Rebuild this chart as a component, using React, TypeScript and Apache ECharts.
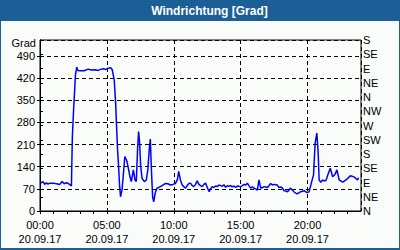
import React, { useEffect, useRef } from "react";
import * as echarts from "echarts";

const title = "Windrichtung [Grad]";
const unitLabel = "Grad";
const dateLabel = "20.09.17";
const compassLabels = ["N", "NE", "E", "SE", "S", "SW", "W", "NW"];

// time in hours of 20.09.17
const hours = [
  0.05, 0.23, 0.35, 0.48, 0.6, 0.73, 0.98, 1.23, 1.48, 1.65, 1.8, 1.98, 2.15, 2.3, 2.35,
  2.37, 2.42, 2.5, 2.6, 2.65, 2.75, 2.83, 3.0, 3.3, 3.6, 3.83, 4.13, 4.35, 4.58, 4.73,
  4.95, 5.1, 5.3, 5.4, 5.55, 5.65, 5.72, 5.8, 5.87, 5.95, 6.02, 6.13, 6.23, 6.34, 6.47,
  6.56, 6.73, 6.83, 6.98, 7.1, 7.2, 7.3, 7.37, 7.45, 7.52, 7.63, 7.8, 7.95, 8.06, 8.18,
  8.25, 8.33, 8.42, 8.5, 8.63, 8.75, 9.0, 9.19, 9.38, 9.56, 9.75, 9.94, 10.13, 10.28, 10.37,
  10.5, 10.63, 10.75, 10.88, 11.0, 11.13, 11.25, 11.38, 11.5, 11.63, 11.75, 11.88, 12.0, 12.13, 12.25,
  12.38, 12.53, 12.65, 12.75, 12.88, 13.0, 13.13, 13.25, 13.37, 13.5, 13.63, 13.75, 13.88, 14.0, 14.12,
  14.25, 14.38, 14.5, 14.63, 14.75, 14.87, 15.0, 15.13, 15.25, 15.38, 15.5, 15.62, 15.75, 15.88, 16.0,
  16.13, 16.25, 16.37, 16.5, 16.63, 16.75, 16.88, 17.0, 17.12, 17.25, 17.38, 17.5, 17.63, 17.75, 17.87,
  18.0, 18.13, 18.25, 18.38, 18.5, 18.62, 18.7, 18.88, 19.0, 19.2, 19.35, 19.5, 19.75, 19.95, 20.12,
  20.25, 20.36, 20.45, 20.57, 20.7, 20.8, 20.87, 21.0, 21.13, 21.25, 21.38, 21.53, 21.7, 21.88, 22.05,
  22.2, 22.37, 22.63, 22.88, 23.2, 23.33, 23.5, 23.75, 23.81,
];

// wind direction in degrees
const direction = [
  88, 93, 84, 89, 85, 88, 88, 86, 84, 93, 86, 89, 86, 81, 79,
  130, 235, 310, 389, 430, 454, 444, 443, 443, 448, 445, 446, 444, 448, 449,
  447, 451, 452, 446, 414, 346, 272, 193, 145, 80, 45, 66, 114, 172, 161,
  145, 108, 93, 130, 98, 93, 200, 251, 215, 145, 103, 93, 98, 130, 200,
  227, 130, 45, 29, 60, 72, 77, 82, 87, 86, 82, 84, 87, 100, 125,
  98, 82, 77, 72, 80, 87, 88, 80, 77, 84, 95, 84, 80, 77, 84,
  88, 72, 61, 70, 77, 74, 79, 77, 82, 80, 78, 83, 75, 80, 78,
  80, 76, 79, 74, 79, 78, 77, 80, 84, 82, 88, 80, 72, 76, 72,
  70, 66, 98, 72, 74, 77, 76, 74, 80, 87, 82, 84, 83, 82, 74,
  76, 72, 64, 63, 61, 66, 72, 66, 60, 54, 57, 61, 64, 58, 61,
  82, 100, 114, 214, 246, 182, 98, 91, 98, 95, 96, 115, 135, 108, 115,
  130, 98, 91, 98, 111, 110, 107, 98, 105,
];

const FONT = "Liberation Sans";

export default function App() {
  const ref = useRef<HTMLDivElement>(null);
  useEffect(() => {
    if (!ref.current) return;
    const chart = echarts.init(ref.current, null, { renderer: "svg" });
    const data = hours.map((h, i) => [h, direction[i]]);
    const pad = (n: number) => (n < 10 ? "0" + n : "" + n);
    chart.setOption({
      animation: false,
      backgroundColor: "#1C5E96",
      textStyle: { fontFamily: FONT },
      graphic: [
        {
          type: "rect",
          z: -10,
          shape: { x: 1, y: 21, width: 398, height: 227 },
          style: { fill: "#FAFCFA" },
        },
        {
          type: "text",
          x: 209.5,
          y: 10.5,
          style: {
            text: title,
            fill: "#ffffff",
            font: `bold 12px ${FONT}`,
            align: "center",
            verticalAlign: "middle",
          },
        },
        {
          type: "text",
          x: 36,
          y: 43,
          style: {
            text: unitLabel,
            fill: "#000000",
            font: `11px ${FONT}`,
            align: "right",
            verticalAlign: "middle",
          },
        },
      ],
      grid: {
        left: 40,
        right: 39,
        top: 40,
        bottom: 39,
        show: true,
        borderColor: "#000",
        borderWidth: 1,
        backgroundColor: "transparent",
      },
      xAxis: [
        {
          type: "value",
          min: 0,
          max: 24,
          interval: 1,
          position: "bottom",
          axisLine: { show: true, lineStyle: { color: "#000", width: 1 } },
          axisTick: { show: true, length: 3, inside: false, lineStyle: { color: "#000" } },
          splitLine: { show: false },
          axisLabel: {
            show: true,
            margin: 7,
            color: "#000",
            fontSize: 11,
            lineHeight: 14,
            fontFamily: FONT,
            showMaxLabel: false,
            formatter: (v: number) =>
              v % 5 === 0 && v < 24 ? `${pad(v)}:00\n${dateLabel}` : "",
          },
        },
        {
          type: "value",
          min: 0,
          max: 24,
          interval: 5,
          position: "top",
          axisLine: { show: false },
          axisTick: { show: false },
          axisLabel: { show: false },
          splitLine: {
            show: true,
            lineStyle: { color: "#000", type: [4, 3], width: 1 },
          },
        },
      ],
      yAxis: [
        {
          type: "value",
          min: 0,
          max: 540,
          interval: 70,
          position: "left",
          axisLine: { show: true, lineStyle: { color: "#000", width: 1 } },
          axisTick: { show: true, length: 3, lineStyle: { color: "#000" } },
          splitLine: {
            show: true,
            lineStyle: { color: "#000", type: [4, 3], width: 1 },
          },
          axisLabel: {
            margin: 5,
            color: "#000",
            fontSize: 11,
            fontFamily: FONT,
            showMaxLabel: false,
          },
        },
        {
          type: "value",
          min: 0,
          max: 540,
          interval: 45,
          position: "right",
          axisLine: { show: true, lineStyle: { color: "#000", width: 1 } },
          axisTick: { show: true, length: 3, lineStyle: { color: "#000" } },
          splitLine: { show: false },
          axisLabel: {
            margin: 2,
            color: "#000",
            fontSize: 11,
            fontFamily: FONT,
            formatter: (v: number) => compassLabels[Math.round(v / 45) % 8],
          },
        },
      ],
      series: [
        {
          type: "line",
          xAxisIndex: 0,
          yAxisIndex: 0,
          data,
          showSymbol: false,
          symbol: "none",
          lineStyle: { color: "#0000FF", width: 1.5 },
          z: 5,
        },
      ],
    });
    return () => chart.dispose();
  }, []);
  return (
    <div
      ref={ref}
      style={{ position: "fixed", left: 0, top: 0, width: 400, height: 250 }}
    />
  );
}
